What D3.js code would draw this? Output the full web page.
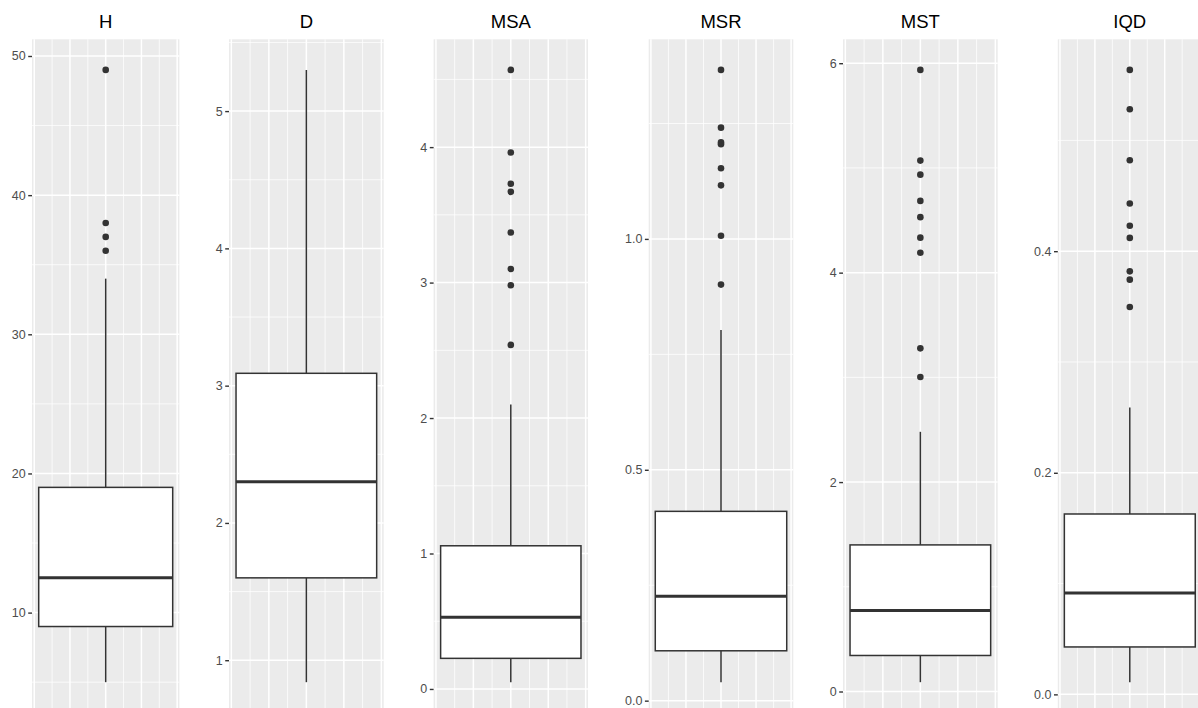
<!DOCTYPE html>
<html>
<head>
<meta charset="utf-8">
<script src="https://cdn.jsdelivr.net/npm/d3@7"></script>
<style>
  html, body { margin: 0; padding: 0; background: #ffffff; }
  svg { display: block; }
  text { font-family: "Liberation Sans", Arial, Helvetica, sans-serif; }
</style>
</head>
<body>
<svg id="chart" width="1198" height="708"></svg>
<script>
// ---- data ----
const categories = ["H", "D", "MSA", "MSR", "MST", "IQD"];
const whiskerLow  = [5,    0.84, 0.05,  0.04,  0.089, 0.011];
const q1          = [9,    1.60, 0.226, 0.108, 0.344, 0.0428];
const medians     = [12.5, 2.30, 0.53,  0.226, 0.774, 0.0914];
const q3          = [19,   3.09, 1.057, 0.41,  1.40,  0.1628];
const whiskerHigh = [34,   5.3,  2.1,   0.803, 2.48,  0.259];
const outliersH   = [36, 37, 38, 49];
const outliersD   = [];
const outliersMSA = [2.54, 2.98, 3.10, 3.37, 3.67, 3.73, 3.96, 4.57];
const outliersMSR = [0.901, 1.007, 1.116, 1.153, 1.205, 1.209, 1.241, 1.366];
const outliersMST = [3.003, 3.277, 4.19, 4.334, 4.53, 4.685, 4.936, 5.07, 5.936];
const outliersIQD = [0.3496, 0.3743, 0.3818, 0.412, 0.423, 0.4431, 0.4821, 0.5281, 0.5636];
const outliers = [outliersH, outliersD, outliersMSA, outliersMSR, outliersMST, outliersIQD];
const yTicksH   = [10, 20, 30, 40, 50];
const yTicksD   = [1, 2, 3, 4, 5];
const yTicksMSA = [0, 1, 2, 3, 4];
const yTicksMSR = [0, 0.5, 1.0];
const yTicksMST = [0, 2, 4, 6];
const yTicksIQD = [0, 0.2, 0.4];
const yTicks = [yTicksH, yTicksD, yTicksMSA, yTicksMSR, yTicksMST, yTicksIQD];
const yTickFormats = ["d", "d", "d", ".1f", "d", ".1f"];
const xMajor = [-0.4, -0.2, 0, 0.2, 0.4];
const xMinor = [-0.3, -0.1, 0.1, 0.3];

// ---- layout ----
const panelLeft  = [32, 229, 433.6, 648.7, 843, 1057.8];
const panelRight = [179.4, 383.7, 588, 793.3, 997.7, 1201.8];
const panelTop = 39.3, panelBottom = 712.8;
const boxHalf = 0.375;

const svg = d3.select("#chart");

categories.forEach((cat, i) => {
  const vals = [whiskerLow[i], whiskerHigh[i], ...outliers[i]];
  const lo = d3.min(vals), hi = d3.max(vals);
  const pad = (hi - lo) * 0.05;
  const y = d3.scaleLinear().domain([lo - pad, hi + pad]).range([panelBottom, panelTop]);
  const x = d3.scaleLinear().domain([-0.4125, 0.4125]).range([panelLeft[i], panelRight[i]]);

  const g = svg.append("g");

  // panel background
  g.append("rect")
    .attr("x", panelLeft[i]).attr("y", panelTop)
    .attr("width", panelRight[i] - panelLeft[i])
    .attr("height", panelBottom - panelTop)
    .attr("fill", "#EBEBEB");

  // minor y gridlines
  const t = yTicks[i];
  const step = t[1] - t[0];
  const yMinor = [];
  for (let k = -1; k < t.length; k++) {
    const v = t[0] + step * (k + 0.5);
    const [d0, d1] = y.domain();
    if (v >= d0 && v <= d1) yMinor.push(v);
  }
  g.selectAll(".ymin").data(yMinor).enter().append("line")
    .attr("x1", panelLeft[i]).attr("x2", panelRight[i])
    .attr("y1", d => y(d)).attr("y2", d => y(d))
    .attr("stroke", "#ffffff").attr("stroke-width", 0.75);
  g.selectAll(".xmin").data(xMinor).enter().append("line")
    .attr("x1", d => x(d)).attr("x2", d => x(d))
    .attr("y1", panelTop).attr("y2", panelBottom)
    .attr("stroke", "#ffffff").attr("stroke-width", 0.75);
  // major gridlines
  g.selectAll(".ymaj").data(t).enter().append("line")
    .attr("x1", panelLeft[i]).attr("x2", panelRight[i])
    .attr("y1", d => y(d)).attr("y2", d => y(d))
    .attr("stroke", "#ffffff").attr("stroke-width", 1.5);
  g.selectAll(".xmaj").data(xMajor).enter().append("line")
    .attr("x1", d => x(d)).attr("x2", d => x(d))
    .attr("y1", panelTop).attr("y2", panelBottom)
    .attr("stroke", "#ffffff").attr("stroke-width", 1.5);

  // y axis
  const axis = d3.axisLeft(y).tickValues(t).tickSize(3.8).tickPadding(2.5)
    .tickFormat(d3.format(yTickFormats[i]));
  const ag = svg.append("g").attr("transform", `translate(${panelLeft[i]},0)`).call(axis);
  ag.select(".domain").remove();
  ag.selectAll(".tick line").attr("stroke", "#333333").attr("stroke-width", 1.4);
  ag.selectAll(".tick text").attr("fill", "#4D4D4D").style("font-size", "12.5px");

  // whiskers
  const cx = x(0);
  g.append("line").attr("x1", cx).attr("x2", cx)
    .attr("y1", y(q3[i])).attr("y2", y(whiskerHigh[i]))
    .attr("stroke", "#333333").attr("stroke-width", 1.5);
  g.append("line").attr("x1", cx).attr("x2", cx)
    .attr("y1", y(q1[i])).attr("y2", y(whiskerLow[i]))
    .attr("stroke", "#333333").attr("stroke-width", 1.5);

  // box
  g.append("rect")
    .attr("x", x(-boxHalf)).attr("y", y(q3[i]))
    .attr("width", x(boxHalf) - x(-boxHalf))
    .attr("height", y(q1[i]) - y(q3[i]))
    .attr("fill", "#ffffff").attr("stroke", "#333333").attr("stroke-width", 1.5);
  // median
  g.append("line")
    .attr("x1", x(-boxHalf)).attr("x2", x(boxHalf))
    .attr("y1", y(medians[i])).attr("y2", y(medians[i]))
    .attr("stroke", "#333333").attr("stroke-width", 3);

  // outliers
  g.selectAll(".out").data(outliers[i]).enter().append("circle")
    .attr("cx", cx).attr("cy", d => y(d)).attr("r", 3.3)
    .attr("fill", "#333333");

  // title
  svg.append("text")
    .attr("x", (panelLeft[i] + panelRight[i]) / 2).attr("y", 28)
    .attr("text-anchor", "middle")
    .style("font-size", "18.5px").attr("fill", "#000000")
    .text(cat);
});
</script>
</body>
</html>
